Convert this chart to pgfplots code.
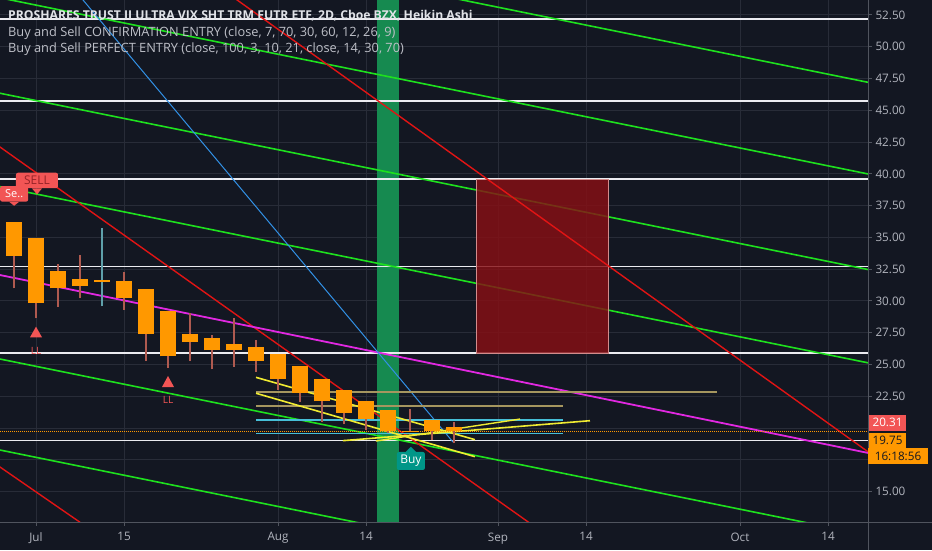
\documentclass[border=0pt]{standalone}
\usepackage{fontspec}
\setmainfont{Open Sans}
\usepackage{pgfplots}
\pgfplotsset{compat=1.18}
\usepackage{pgfplotstable}

\definecolor{bg}{RGB}{19,23,34}
\definecolor{gridc}{RGB}{40,44,56}
\definecolor{axisc}{RGB}{80,84,94}
\definecolor{tickc}{RGB}{178,181,190}
\definecolor{lvl}{RGB}{235,235,240}
\definecolor{greenc}{RGB}{30,225,30}
\definecolor{redc}{RGB}{225,20,20}
\definecolor{bluec}{RGB}{50,145,230}
\definecolor{magc}{RGB}{225,40,225}
\definecolor{yelc}{RGB}{240,235,50}
\definecolor{tanc}{RGB}{165,150,95}
\definecolor{cyanc}{RGB}{70,190,215}
\definecolor{orangec}{RGB}{255,152,0}
\definecolor{wickc}{RGB}{175,90,80}
\definecolor{dojic}{RGB}{95,160,170}
\definecolor{bandc}{RGB}{22,138,80}
\definecolor{rectc}{RGB}{135,15,20}
\definecolor{sellc}{RGB}{242,85,85}
\definecolor{selltxt}{RGB}{150,35,40}
\definecolor{buyc}{RGB}{0,150,136}

% bar index, body top, body bottom, high, low
\pgfplotstableread{
i  t     b     h     l
1  36.24 33.56 36.24 31.00
2  34.93 29.86 34.93 28.64
3  32.38 31.00 32.89 29.55
4  31.75 31.20 33.62 30.21
5  31.67 31.49 35.72 29.60
6  31.57 30.26 32.30 29.29
7  30.97 27.43 30.97 25.30
8  29.21 25.65 29.21 24.73
9  27.43 26.77 29.03 25.28
10 27.11 26.12 27.32 24.62
11 26.64 26.17 28.64 24.83
12 26.38 25.28 26.93 24.44
13 25.85 23.89 25.85 23.00
14 24.88 22.74 24.88 22.08
15 23.86 22.11 23.86 20.50
16 23.00 21.19 23.00 20.30
17 22.11 20.69 22.11 19.85
18 21.40 19.79 21.40 19.60
19 19.80 19.75 21.48 19.71
20 20.61 19.75 20.61 19.06
21 20.11 19.77 20.48 18.80
}\candles

\begin{document}
\begin{tikzpicture}[x=1pt,y=1pt]
\fill[bg] (0,-28) rectangle (932,522);
\useasboundingbox (0,-28) rectangle (932,522);
\begin{axis}[
  scale only axis, width=868pt, height=522pt,
  xmin=0.3636, xmax=39.818, ymin=12.61, ymax=53.68,
  clip mode=individual, no markers,
  axis line style={draw=none},
  xtick={2,6,13,17,23,27,34,38},
  xticklabels={Jul,15,Aug,14,Sep,14,Oct,14},
  ytick={15,17.5,...,52.5},
  yticklabels={15.00,,,22.50,25.00,27.50,30.00,32.50,35.00,37.50,40.00,42.50,45.00,47.50,50.00,52.50},
  xtick pos=bottom, ytick pos=right, yticklabel pos=right,
  tick align=outside, major tick length=4pt,
  tick style={draw=axisc, line width=1pt},
  grid=major, major grid style={draw=gridc, line width=1pt},
  tick label style={font=\fontsize{11.7}{12}\selectfont, text=tickc},
  xticklabel style={yshift=-3pt},
  yticklabel style={anchor=west},
]

% highlighted bar
\addplot[fill=bandc, draw=none] coordinates {(17.5,5) (17.5,60) (18.5,60) (18.5,5)} -- cycle;

% horizontal levels
\addplot[lvl, line width=1.8pt] coordinates {(0,52.16) (40,52.16)};
\addplot[lvl, line width=1.8pt] coordinates {(0,45.76) (40,45.76)};
\addplot[lvl, line width=1.8pt] coordinates {(0,39.60) (40,39.60)};
\addplot[lvl, line width=1.8pt] coordinates {(0,32.71) (40,32.71)};
\addplot[lvl, line width=1.8pt] coordinates {(0,25.91) (40,25.91)};
\addplot[lvl, line width=1.8pt] coordinates {(0,19.02) (40,19.02)};

% green channel lines
\addplot[greenc, line width=1.6pt] coordinates {(0,61.19) (40,47.14)};
\addplot[greenc, line width=1.6pt] coordinates {(0,53.98) (40,39.93)};
\addplot[greenc, line width=1.6pt] coordinates {(0,46.47) (40,32.41)};
\addplot[greenc, line width=1.6pt] coordinates {(0,39.12) (40,25.07)};
\addplot[greenc, line width=1.6pt] coordinates {(0,25.56) (40,11.51)};
\addplot[greenc, line width=1.6pt] coordinates {(0,18.40) (40,4.35)};

% short position box
\addplot[fill=rectc, fill opacity=0.82, draw={rgb,255:red,210;green,140;blue,140}, line width=0.8pt]
  coordinates {(22,25.91) (22,39.60) (28,39.60) (28,25.91)} -- cycle;

% red, magenta, blue trend lines
\addplot[redc, line width=1.4pt] coordinates {(0,67.49) (40,17.91)};
\addplot[redc, line width=1.4pt] coordinates {(0,42.56) (25,11.84)};
\addplot[redc, line width=1.4pt] coordinates {(0,17.37) (4,12.59)};
\addplot[magc, line width=1.8pt] coordinates {(0,32.17) (40,17.98)};
\addplot[bluec, line width=1pt] coordinates {(3.755,54.47) (20.955,18.90)};

% pattern lines
\addplot[tanc, line width=1.6pt] coordinates {(12,22.86) (32.95,22.86)};
\addplot[tanc, line width=1.6pt] coordinates {(12,21.76) (25.95,21.76)};
\addplot[cyanc, line width=1.6pt] coordinates {(12,20.64) (25.95,20.64)};
\addplot[cyanc, line width=1.6pt] coordinates {(12,19.57) (25.95,19.57)};
\addplot[yelc, line width=1.6pt] coordinates {(12,23.99) (21.95,19.09)};
\addplot[yelc, line width=1.6pt] coordinates {(12,22.74) (21.95,17.75)};
\addplot[yelc, line width=1.6pt] coordinates {(15.95,19.01) (27.18,20.58)};
\addplot[yelc, line width=1.4pt] coordinates {(17.45,18.98) (24.0,20.71)};
\addplot[orangec, line width=0.9pt, dash pattern=on 1pt off 1pt] coordinates {(0,19.75) (40,19.75)};

% candles
\addplot[draw=none, error bars/.cd, y dir=plus, y explicit, error mark=none,
  error bar style={draw=wickc, line width=1.3pt}]
  table[x=i, y=l, y error plus expr=\thisrow{h}-\thisrow{l}] {\candles};
\addplot[dojic, line width=1.3pt] coordinates {(5,29.60) (5,35.72)};
\addplot[draw=none, error bars/.cd, y dir=plus, y explicit, error mark=none,
  error bar style={draw=orangec, line width=16pt}]
  table[x=i, y=b, y error plus expr=\thisrow{t}-\thisrow{b}] {\candles};

% signal labels
\node[fill=sellc, text=selltxt, rounded corners=2pt, minimum width=42pt, minimum height=15.5pt,
  inner sep=0pt, font=\fontsize{12}{12}\selectfont] (sell) at (axis cs:2.045,39.48) {SELL};
\fill[sellc] ([xshift=-5pt]sell.south) -- ([xshift=5pt]sell.south) -- ([yshift=-6pt]sell.south) -- cycle;
\node[fill=sellc, text=white, rounded corners=2pt, minimum width=28pt, minimum height=15.5pt,
  inner sep=0pt, font=\fontsize{11}{11}\selectfont] (se) at (axis cs:1.007,38.43) {Se..};
\fill[sellc] ([xshift=-5pt]se.south) -- ([xshift=5pt]se.south) -- ([yshift=-4pt]se.south) -- cycle;

\fill[sellc] (axis cs:2,27.98) -- ([xshift=-6pt]axis cs:2,27.14) -- ([xshift=6pt]axis cs:2,27.14) -- cycle;
\node[text=sellc, font=\fontsize{10}{10}\selectfont] at (axis cs:2,26.09) {LL};
\fill[sellc] (axis cs:8,24.10) -- ([xshift=-6pt]axis cs:8,23.23) -- ([xshift=6pt]axis cs:8,23.23) -- cycle;
\node[text=sellc, font=\fontsize{10}{10}\selectfont] at (axis cs:8,22.21) {LL};

\node[fill=buyc, text=white, rounded corners=2pt, minimum width=28pt, minimum height=18pt,
  inner sep=0pt, font=\fontsize{12}{12}\selectfont] (buy) at (axis cs:19.04,17.41) {Buy};
\fill[buyc] ([xshift=-5pt]buy.north) -- ([xshift=5pt]buy.north) -- ([yshift=5pt]buy.north) -- cycle;
\end{axis}

% price scale and time scale borders
\draw[axisc, line width=1pt] (0,0) -- (932,0);
\draw[axisc, line width=1pt] (868,-28) -- (868,522);

% last price labels
\fill[sellc] (869,91.3) rectangle (906,107);
\node[text=white, font=\fontsize{11.7}{12}\selectfont] at (887.5,99.2) {20.31};
\fill[orangec] (869,73.7) rectangle (906,88.7);
\node[text=bg, font=\fontsize{11.7}{12}\selectfont] at (887.5,81.2) {19.75};
\fill[orangec] (868,57.7) rectangle (928,73.7);
\node[text=bg, font=\fontsize{11.7}{12}\selectfont] at (898,65.7) {16:18:56};

% legend
\node[anchor=base west, inner sep=0pt, text={rgb,255:red,225;green,227;blue,232}, font=\fontsize{12.2}{13}\selectfont\bfseries]
  at (8,502) {PROSHARES TRUST II ULTRA VIX SHT TRM FUTR ETF, 2D, Cboe BZX, Heikin Ashi};
\node[anchor=base west, inner sep=0pt, text={rgb,255:red,190;green,192;blue,200}, font=\fontsize{12.8}{13}\selectfont]
  at (8,485.3) {Buy and Sell CONFIRMATION ENTRY (close, 7, 70, 30, 60, 12, 26, 9)};
\node[anchor=base west, inner sep=0pt, text={rgb,255:red,190;green,192;blue,200}, font=\fontsize{12.8}{13}\selectfont]
  at (8,469.3) {Buy and Sell PERFECT ENTRY (close, 100, 3, 10, 21, close, 14, 30, 70)};
\end{tikzpicture}
\end{document}
